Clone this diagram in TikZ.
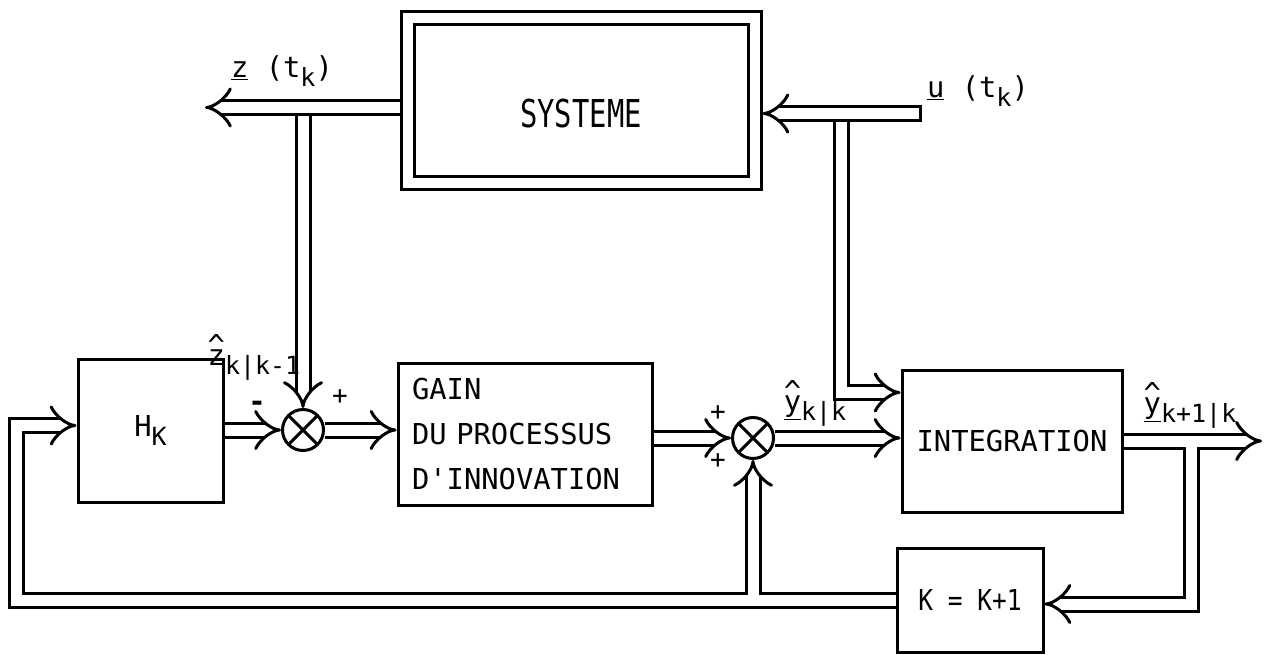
\documentclass[tikz,border=0pt]{standalone}
\usepackage{fontspec}
\newfontfamily\machine{DejaVu Sans Mono}
\newfontfamily\machinecond[FakeStretch=0.75]{DejaVu Sans Mono}
\newfontfamily\machinesemi[FakeStretch=0.85]{DejaVu Sans Mono}
\usetikzlibrary{positioning,calc,arrows.meta,backgrounds}

% indice abaisse et chapeau dactylographie
\newcommand{\lowsub}[1]{\raisebox{-0.3em}{\fontsize{25}{25}\selectfont #1}}
\newcommand{\hatted}[1]{\makebox[0pt][l]{\raisebox{0.36em}{\textasciicircum}}#1}

\tikzset{
  bloc/.style={draw, line width=3pt, inner sep=0pt},
  dbl/.style={draw=black, double=white, double distance=11pt, line width=3pt},
  flux/.style={dbl, -{Implies[scale=0.8]}},
  patch/.style={white, line width=11pt},
  sommat/.style={circle, draw, line width=3pt, minimum size=41pt, inner sep=0pt,
    path picture={\draw[line width=3pt]
      (path picture bounding box.north west) -- (path picture bounding box.south east)
      (path picture bounding box.north east) -- (path picture bounding box.south west);}},
  lbl/.style={inner sep=0pt, font=\machine\fontsize{28.8}{34}\selectfont},
}

\begin{document}
\begin{tikzpicture}[x=1pt,y=-1pt]
\useasboundingbox (0,0) rectangle (1266,655);

% blocs
\node[bloc, double, double distance=10pt, minimum width=347pt, minimum height=165pt,
      outer sep=8pt, text height=54pt, text depth=0pt,
      font=\machinecond\fontsize{38.4}{40}\selectfont] (sys) at (581,101) {SYSTEME};
\node[bloc, minimum width=145pt, minimum height=143pt, lbl] (hk) at (150.5,430.5)
  {H\lowsub{K}};
\node[bloc, minimum height=142pt, text width=226pt, inner xsep=14pt, align=left,
      font=\machine\fontsize{28.8}{45}\selectfont] (gain) at (525,434)
  {GAIN\\DU PROCESSUS\\D'INNOVATION};
\node[bloc, minimum width=220pt, minimum height=142pt, lbl] (integ) at (1012,441)
  {INTEGRATION};
\node[bloc, minimum width=146pt, minimum height=104pt,
      font=\machinesemi\fontsize{28.8}{34}\selectfont] (kbox) at (970,600) {K = K+1};

% sommateurs
\node[sommat] (j1) at (303,430) {};
\node[sommat] (j2) at (753,438) {};

% points libres
\coordinate (zend) at (205,107.5);
\coordinate (uin) at (922,113.5);
\coordinate (ubr) at (841.5,113.5);
\coordinate (yout) at (1262,441);
\coordinate (ybr) at (1191.5,441);
\coordinate (retour) at (16,600);

% libelles
\node[lbl] (zlab) at (282,71) {\underline{z} (t\lowsub{k})};
\node[lbl] (ulab) at (978,91) {\underline{u} (t\lowsub{k})};
\node[lbl] (zhat) at (254,357) {\hatted{z}\lowsub{k|k-1}};
\node[lbl] (yhat) at (815,403) {\hatted{\underline{y}}\lowsub{k|k}};
\node[lbl] (yhatn) at (1190,405) {\hatted{\underline{y}}\lowsub{k+1|k}};
\node[lbl, font=\machine\bfseries\fontsize{28.8}{30}\selectfont] (moins) at (257,406) {-};
\node[lbl, font=\machine\fontsize{26}{26}\selectfont] (plusa) at (340,397) {+};
\node[lbl, font=\machine\fontsize{26}{26}\selectfont] (plusb) at (718,413) {+};
\node[lbl, font=\machine\fontsize{26}{26}\selectfont] (plusc) at (718,461) {+};

\begin{scope}[on background layer]
% mesure et commande du systeme
\draw[flux] (j1 |- zend) -- (j1.north);
\draw[flux] (sys.west |- zend) -- (zend);
\draw[flux] (ubr) |- ($(integ.west)+(0,-48.5)$);
\draw[flux] (uin) -- (uin -| sys.east);
\draw[line width=3pt] ($(uin)+(-1.5,-8.5)$) -- ($(uin)+(-1.5,8.5)$);

% chaine du filtre
\draw[flux] (hk.east |- j1) -- (j1.west);
\draw[flux] (j1.east) -- (j1.east -| gain.west);
\draw[flux] (gain.east |- j2) -- (j2.west);
\draw[flux] (j2.east) -- (j2.east -| integ.west);

% sortie et rebouclage
\draw[flux] (integ.east) -- (yout);
\draw[flux] (ybr) |- ($(kbox.east)+(0,4)$);
\draw[patch] ($(ybr)+(-14,0)$) -- ($(ybr)+(14,0)$);
\draw[flux] (kbox.west) -- (retour) |- ($(hk.west)+(0,-5)$);
\draw[flux] (j2 |- kbox.west) -- (j2.south);
\draw[patch] ($(j2 |- kbox.west)+(-14,0)$) -- ($(j2 |- kbox.west)+(14,0)$);
\end{scope}
\end{tikzpicture}
\end{document}
